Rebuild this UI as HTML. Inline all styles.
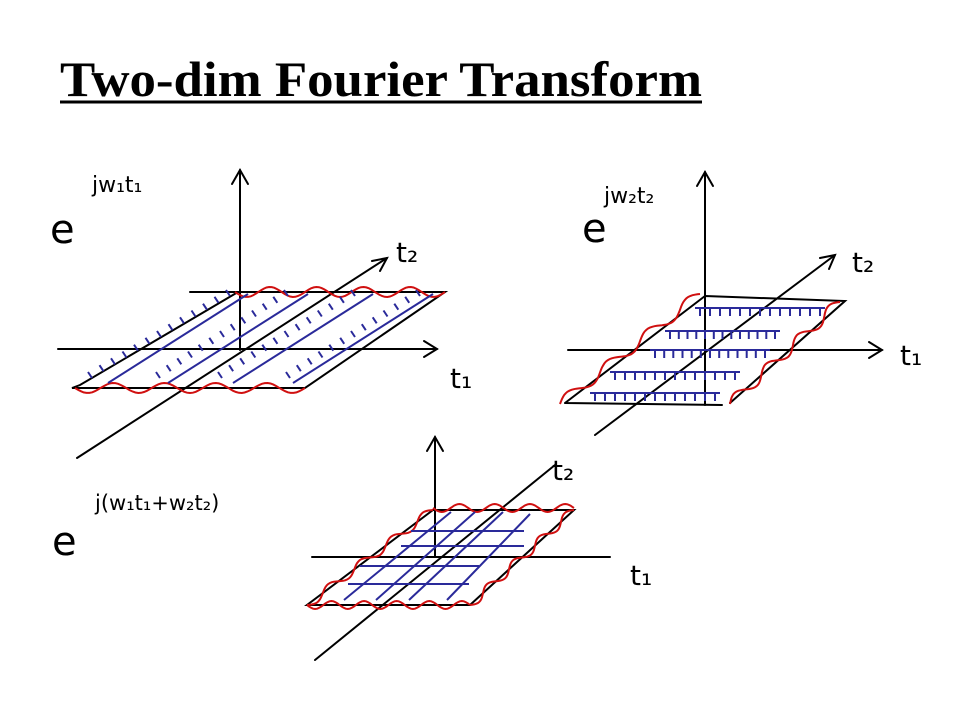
<!DOCTYPE html>
<html><head><meta charset="utf-8"><style>
body{margin:0;background:#fff;}
svg{display:block}
.ax{stroke:#000;stroke-width:2;fill:none;stroke-linecap:round}
.bl{stroke:#2a2a9a;stroke-width:2;fill:none}
.rd{stroke:#d01010;stroke-width:2;fill:none}
.hw{font-family:"DejaVu Sans","Liberation Sans",sans-serif;fill:#000}
</style></head><body>
<svg id="s" width="960" height="720" viewBox="0 0 960 720">
<text x="60" y="96" font-family="Liberation Serif" font-weight="bold" font-size="50" textLength="642" lengthAdjust="spacingAndGlyphs">Two-dim Fourier Transform</text>
<line x1="60" y1="102" x2="702" y2="102" stroke="#000" stroke-width="3"/>

<g>
<line class="ax" x1="240" y1="350" x2="240" y2="170"/><path class="ax" d="M232 184 L240 170 L248 184"/>
<line class="ax" x1="58" y1="349" x2="437" y2="349"/><path class="ax" d="M424 341 L437 349 L424 357"/>
<line class="ax" x1="77" y1="458" x2="387" y2="258"/><path class="ax" d="M372 261 L387 258 L380 271"/>
<path class="ax" d="M190 292 L445 292 L305 388 L72 388 L80 385 L238 292"/>
<text class="hw" x="50" y="243" font-size="40">e</text>
<text class="hw" x="92" y="192" font-size="22">jw₁t₁</text>
<text class="hw" x="396" y="262" font-size="28">t₂</text>
<text class="hw" x="450" y="388" font-size="28">t₁</text>
</g>

<g>
<line class="ax" x1="705" y1="405" x2="705" y2="172"/><path class="ax" d="M697 186 L705 172 L713 186"/>
<line class="ax" x1="568" y1="350" x2="882" y2="350"/><path class="ax" d="M869 342 L882 350 L869 358"/>
<line class="ax" x1="595" y1="435" x2="835" y2="255"/><path class="ax" d="M820 258 L835 255 L829 269"/>
<path class="ax" d="M705 296 L845 301 L730 403 M565 403 L722 405 M565 403 L705 296"/>
<text class="hw" x="582" y="242" font-size="40">e</text>
<text class="hw" x="604" y="203" font-size="22">jw₂t₂</text>
<text class="hw" x="852" y="272" font-size="28">t₂</text>
<text class="hw" x="900" y="365" font-size="28">t₁</text>
</g>

<g>
<line class="ax" x1="435" y1="557" x2="435" y2="437"/><path class="ax" d="M427 451 L435 437 L443 451"/>
<line class="ax" x1="312" y1="557" x2="610" y2="557"/>
<line class="ax" x1="315" y1="660" x2="555" y2="465"/>
<path class="ax" d="M433 510 L574 510 L470 605 L307 605 Z"/>
<text class="hw" x="52" y="555" font-size="40">e</text>
<text class="hw" x="95" y="510" font-size="21">j(w₁t₁+w₂t₂)</text>
<text class="hw" x="552" y="480" font-size="28">t₂</text>
<text class="hw" x="630" y="585" font-size="28">t₁</text>
</g>
</svg>
<script>
var svg=document.getElementById('s'),NS='http://www.w3.org/2000/svg';
function add(cls,d,name){var p=document.createElementNS(NS,'path');p.setAttribute('class',cls);p.setAttribute('d',d);


svg.appendChild(p);}
function wave(x1,y1,x2,y2,n,a,name){var d='',L=Math.hypot(x2-x1,y2-y1),nx=-(y2-y1)/L,ny=(x2-x1)/L;
for(var i=0;i<=80;i++){var t=i/80,s=a*Math.sin(t*n*2*Math.PI);d+=(i?'L':'M')+(x1+(x2-x1)*t+nx*s).toFixed(1)+' '+(y1+(y2-y1)*t+ny*s).toFixed(1);}add('rd',d,name);}
function seg(x1,y1,x2,y2,cls,name){add(cls,'M'+x1+' '+y1+'L'+x2+' '+y2,name);}
function ticks(x1,y1,x2,y2,n,dx,dy,name){var d='';for(var i=0;i<=n;i++){var t=i/n,x=x1+(x2-x1)*t,y=y1+(y2-y1)*t;d+='M'+x.toFixed(1)+' '+y.toFixed(1)+'l'+dx+' '+dy;}add('bl',d,name);}
// diagram 1
wave(235,292,445,292,4.5,5,'wave-top-1');wave(75,388,305,388,4.5,5,'wave-bottom-1');
[[0,0],[60,0],[125,0],[185,0]].forEach(function(o,i){seg(108+o[0],383,248+o[0],294,'bl','stripe-1-'+i);});
ticks(92,378,230,296,12,-4,-6,'ticks-1a');ticks(160,378,288,296,12,-4,-6,'ticks-1b');ticks(222,378,355,296,12,-4,-6,'ticks-1c');ticks(290,378,420,296,12,-4,-6,'ticks-1d');
// diagram 2
wave(700,294,560,404,3.5,5,'wave-left-2');wave(840,302,730,404,3.5,5,'wave-right-2');
[[695,308,825],[665,331,780],[650,350,770],[610,372,740],[590,393,720]].forEach(function(r,i){seg(r[0],r[1],r[2],r[1],'bl','stripe-2-'+i);ticks(r[0]+5,r[1],r[2]-5,r[1],12,0,8,'ticks-2-'+i);});
// diagram 3
wave(433,508,574,508,4,4,'wave-top-3');wave(307,605,470,605,5,4,'wave-bottom-3');
wave(433,510,307,605,4,4,'wave-left-3');wave(574,510,470,605,4,4,'wave-right-3');
[[411,531,524],[401,546,524],[360,566,479],[348,584,469]].forEach(function(r,i){seg(r[0],r[1],r[2],r[1],'bl','grid-h-'+i);});
[[344,600,451,512],[376,600,475,512],[409,600,503,512],[447,600,530,514]].forEach(function(r,i){seg(r[0],r[1],r[2],r[3],'bl','grid-d-'+i);});
</script>
</body></html>
